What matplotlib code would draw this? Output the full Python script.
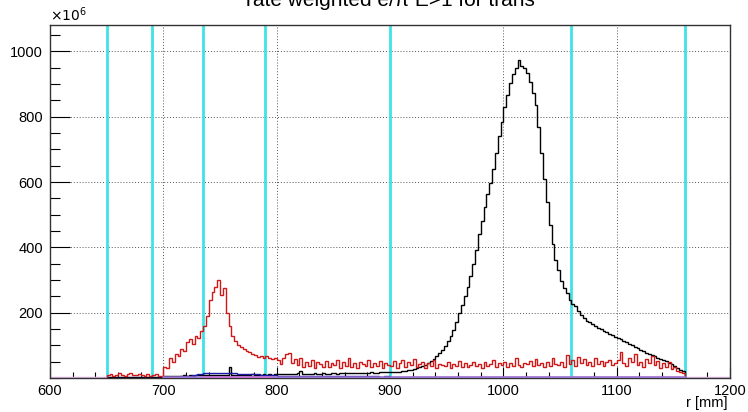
import numpy as np
import matplotlib
matplotlib.use("Agg")
import matplotlib.pyplot as plt
from matplotlib.ticker import MultipleLocator

plt.rcParams['font.family'] = ['Liberation Sans', 'DejaVu Sans']

# histogram contents in units of 1e6, 2.5 mm bins from 650 to 1160 mm
r_lo, r_hi = 650, 1160

h_black = [2, 3, 2, 3, 3, 2, 4, 3, 2, 3, 3, 4, 2, 3, 3, 2, 3, 4, 3, 3,
           5, 6, 6, 7, 6, 7, 7, 8, 7, 8, 7, 8, 8, 9, 8, 9,
           9, 8, 9, 10, 9, 10, 10, 33, 10, 9, 10, 9, 10, 9, 10, 11, 10, 9, 10, 11, 10, 11, 10, 11,
           11, 12, 11, 12, 13, 12, 12, 14, 20, 13, 12, 13, 12, 14, 13, 12, 14, 13, 13, 15,
           14, 13, 15, 14, 14, 15, 14, 16, 15, 15, 16, 15, 16, 17, 16, 16, 17, 17, 18, 17,
           18, 18, 19, 19, 21, 22, 24, 25, 28, 30,
           33, 37, 41, 46, 52, 59, 67, 76, 87, 98,
           112, 128, 148, 172, 198, 225, 252, 280, 312, 348,
           392, 440, 482, 525, 562, 598, 640, 690, 742, 785,
           830, 868, 903, 930, 950, 975, 955, 948, 935, 905,
           872, 835, 770, 690, 610, 540, 470, 410, 362, 330,
           298, 275, 260, 240, 226, 222, 205, 192, 184, 175,
           172, 166, 160, 153, 149, 144, 140, 135, 131, 126,
           122, 118, 113, 110, 104, 100, 96, 91, 87, 83,
           78, 74, 70, 66, 62, 59, 55, 52, 47, 42,
           37, 32, 26, 21]

h_red = [8, 12, 6, 10, 14, 9, 7, 11, 16, 10, 8, 13, 9, 6, 11, 7, 9, 12, 5, 6,
         33, 30, 62, 50, 73, 68, 90, 82, 110, 118, 105, 128, 122, 145, 160, 190,
         240, 262, 280, 300, 255, 275, 200, 158, 130, 112, 100, 95, 88, 82, 80, 72,
         70, 65, 68, 62, 66, 60, 58, 62,
         55, 42, 60, 72, 78, 45, 58, 40, 62, 35, 50, 38, 55, 30, 48, 42, 35, 52, 33, 45,
         40, 55, 32, 48, 38, 60, 35, 45, 30, 50, 42, 36, 55, 33, 47, 38, 52, 30, 45, 40,
         38, 52, 30, 45, 55, 33, 48, 40, 58, 35, 42, 50, 30, 46, 38, 55, 32, 44, 40, 36,
         48, 30, 42, 38, 52, 35, 45, 33, 40, 50, 36, 44, 32, 48, 38, 42, 55, 34, 46, 40,
         50, 35, 45, 38, 60, 40, 33, 47, 42, 52, 36, 58, 40, 45, 34, 50, 38, 62, 44, 40,
         48, 35, 70, 42, 55, 38, 65, 45, 58, 40, 50, 36, 62, 44, 52, 38, 48, 55, 40, 46,
         55, 80, 45, 38, 62, 50, 72, 40, 48, 35, 58, 45, 68, 40, 52, 30, 45, 35, 50, 28,
         35, 22, 18, 14]

# 5 mm bins
h_blue = [0, 0, 0, 0, 0, 0, 0, 0, 1, 1,
          2, 3, 4, 5, 7, 9, 12, 14, 15, 15,
          14, 15, 14, 13, 12, 12, 11, 10, 8, 8,
          7, 7, 6, 7, 6, 6, 7, 6, 5, 6, 6, 5, 6, 5, 5, 6, 5, 5, 4, 5,
          4, 4, 4, 3, 4, 3, 3, 3, 3, 3, 3, 3, 3, 3, 3, 3, 3, 3, 3, 3,
          3, 3, 3, 3, 3, 3, 3, 3, 2, 3, 2, 3, 2, 2, 3, 2, 2, 2, 3, 2,
          2, 2, 2, 2, 2, 2, 2, 2, 2, 2, 2, 1]

# 20 mm bins from 700 to 1160
h_violet = [2, 2, 3, 3, 2, 2, 2, 2, 2, 2, 2, 2, 2, 2, 2, 2, 2, 2, 2, 2, 2, 2, 2]
# 10 mm bins from 735 to 795
h_magenta = [2, 3, 4, 3, 3, 2]

cut_lines = [650, 690, 735, 790, 900, 1060, 1160]

fig = plt.figure(figsize=(7.48, 4.12), dpi=100)
ax = fig.add_axes([50 / 748, 1 - 378 / 412, 680 / 748, 353 / 412])

for xc in cut_lines:
    ax.axvline(xc, color='#3fe3e6', lw=2.0, zorder=1)

ax.axhline(0, color='#e6b8ec', lw=2.5, zorder=2)
ax.stairs(h_black, np.linspace(r_lo, r_hi, len(h_black) + 1), color='black', lw=1.0, zorder=3)
ax.stairs(h_blue, np.linspace(r_lo, r_hi, len(h_blue) + 1), color='#1a1aa8', lw=1.0, zorder=4)
ax.stairs(h_red, np.linspace(r_lo, r_hi, len(h_red) + 1), color='#d01818', lw=1.0, zorder=5)
ax.stairs(h_violet, np.linspace(700, 1160, len(h_violet) + 1), color='#9b74d0', lw=1.8, zorder=6)
ax.stairs(h_magenta, np.linspace(735, 795, len(h_magenta) + 1), color='#c070cc', lw=1.8, zorder=7)

ax.set_xlim(600, 1200)
ax.set_ylim(0, 1081)
ax.set_xticks([600, 700, 800, 900, 1000, 1100, 1200])
ax.set_yticks([200, 400, 600, 800, 1000])
ax.xaxis.set_minor_locator(MultipleLocator(20))
ax.yaxis.set_minor_locator(MultipleLocator(50))
ax.tick_params(axis='x', which='major', direction='in', length=8, width=0.8, labelsize=10.5, pad=4)
ax.tick_params(axis='x', which='minor', direction='in', length=4, width=0.8)
ax.tick_params(axis='y', which='major', direction='in', length=14.5, width=0.8, labelsize=10.5, pad=5)
ax.tick_params(axis='y', which='minor', direction='in', length=7, width=0.8)
ax.grid(True, which='major', color='#555555', lw=0.7, linestyle=(0, (1, 2)))
ax.set_axisbelow(True)
for sp in ax.spines.values():
    sp.set_color('#333333')
    sp.set_linewidth(1.0)

ax.text(0.0, 1.004, r'$\times10^{6}$', transform=ax.transAxes, fontsize=10, ha='left', va='bottom')
ax.text(0.997, -0.051, 'r [mm]', transform=ax.transAxes, fontsize=10.5, ha='right', va='top')
fig.text(390 / 748, 1 - 5.5 / 412, 'rate weighted e/π E>1 for trans', fontsize=15,
         ha='center', va='baseline')

fig.savefig('out.png', dpi=100)
